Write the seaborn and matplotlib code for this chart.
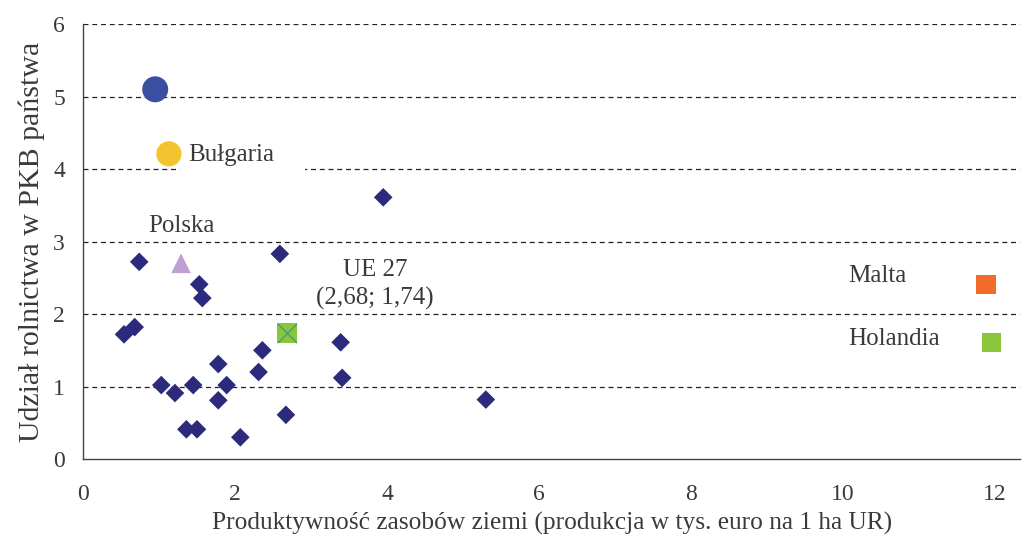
import matplotlib
matplotlib.use("Agg")
import matplotlib.pyplot as plt
import seaborn as sns
import pandas as pd
from matplotlib.patches import Rectangle

# Land productivity (thousand EUR per ha of agricultural land) vs. agriculture share of GDP
other_x = [3.95, 0.74, 2.59, 1.53, 1.57, 0.54, 0.68, 3.39, 2.36, 1.78, 2.31,
           3.41, 1.03, 1.45, 1.89, 1.21, 1.78, 5.30, 2.67, 1.36, 1.50, 2.07]
other_y = [3.61, 2.72, 2.83, 2.41, 2.22, 1.72, 1.82, 1.61, 1.50, 1.31, 1.20,
           1.12, 1.02, 1.02, 1.02, 0.91, 0.81, 0.82, 0.61, 0.41, 0.41, 0.30]

top_x, top_y = [0.95], [5.10]
bulgaria_x, bulgaria_y = [1.13], [4.21]
polska_x, polska_y = [1.29], [2.70]
ue27_x, ue27_y = [2.68], [1.74]
malta_x, malta_y = [11.88], [2.41]
holandia_x, holandia_y = [11.95], [1.61]

x_ticks = [0, 2, 4, 6, 8, 10, 12]
y_ticks = [0, 1, 2, 3, 4, 5, 6]

sns.set_style("white")
plt.rcParams["font.family"] = ["Liberation Serif", "DejaVu Serif"]
text_color = "#3a3a3a"

fig = plt.figure(figsize=(10.22, 5.35), dpi=100)
ax = fig.add_axes([0.0812, 0.142, 0.917, 0.813])

for yv in y_ticks[1:]:
    ax.axhline(yv, color="#222222", lw=0.9, ls=(0, (4, 3)), zorder=1)

# white backing behind the Bulgaria label
ax.add_patch(Rectangle((1.28, 3.85), 1.64, 0.7, facecolor="white",
                       edgecolor="none", zorder=2))

df_other = pd.DataFrame({"x": other_x, "y": other_y})
sns.scatterplot(data=df_other, x="x", y="y", marker="D", s=90,
                color="#2b2a7c", edgecolor="none", ax=ax, zorder=3)

specials = [
    (top_x, top_y, "o", 350, "#3a4fa0"),
    (bulgaria_x, bulgaria_y, "o", 330, "#f4c430"),
    (polska_x, polska_y, "^", 200, "#bf9fd4"),
    (malta_x, malta_y, "s", 190, "#f26b2a"),
    (holandia_x, holandia_y, "s", 190, "#8cc43c"),
    (ue27_x, ue27_y, "s", 205, "#8cc43c"),
]
for xs, ys, mk, sz, col in specials:
    sns.scatterplot(x=xs, y=ys, marker=mk, s=sz, color=col,
                    edgecolor="none", ax=ax, zorder=4)
sns.scatterplot(x=ue27_x, y=ue27_y, marker="x", s=190, color="#3f9a78",
                linewidth=0.9, ax=ax, zorder=5)

fs = 18
ax.text(1.38, 4.19, "Bułgaria", fontsize=fs, color=text_color,
        va="center", ha="left", zorder=6)
ax.text(1.29, 3.21, "Polska", fontsize=fs, color=text_color,
        va="center", ha="center", zorder=6)
ax.text(3.84, 2.61, "UE 27", fontsize=fs, color=text_color,
        va="center", ha="center", zorder=6)
ax.text(3.84, 2.21, "(2,68; 1,74)", fontsize=fs, color=text_color,
        va="center", ha="center", zorder=6)
ax.text(10.07, 2.52, "Malta", fontsize=fs, color=text_color,
        va="center", ha="left", zorder=6)
ax.text(10.07, 1.66, "Holandia", fontsize=fs, color=text_color,
        va="center", ha="left", zorder=6)

ax.set_xlim(0, 12.33)
ax.set_ylim(0, 6)
ax.set_xticks(x_ticks)
ax.set_yticks(y_ticks)
ax.tick_params(axis="x", direction="out", length=6, width=1,
               color="#444444", labelsize=17, labelcolor=text_color, pad=12)
ax.tick_params(axis="y", direction="inout", length=8, width=1,
               color="#444444", labelsize=17, labelcolor=text_color, pad=9)
for side in ["top", "right"]:
    ax.spines[side].set_visible(False)
for side in ["left", "bottom"]:
    ax.spines[side].set_color("#444444")
    ax.spines[side].set_linewidth(1.0)

ax.set_xlabel("Produktywność zasobów ziemi (produkcja w tys. euro na 1 ha UR)",
              fontsize=18.3, color=text_color, labelpad=5)
ax.set_ylabel("Udział rolnictwa w PKB państwa", fontsize=21.5,
              color=text_color, labelpad=6)

fig.savefig("out.png", dpi=100)
